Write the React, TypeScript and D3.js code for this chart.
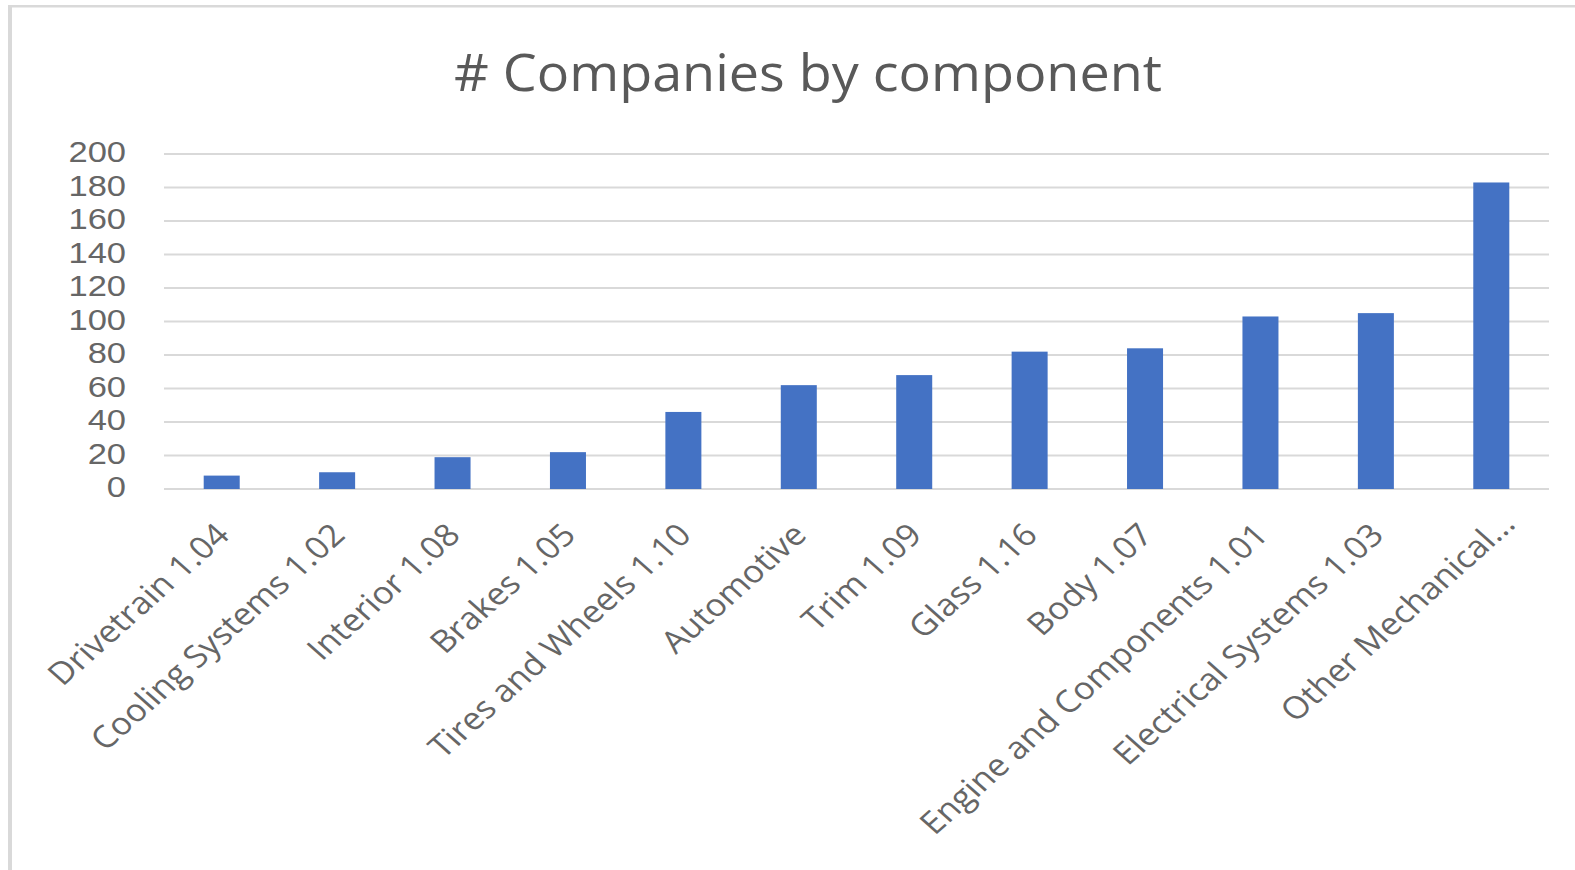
import React from "react";
import * as d3 from "d3";

const categories: string[] = [
  "Drivetrain 1.04",
  "Cooling Systems 1.02",
  "Interior 1.08",
  "Brakes 1.05",
  "Tires and Wheels 1.10",
  "Automotive",
  "Trim 1.09",
  "Glass 1.16",
  "Body 1.07",
  "Engine and Components 1.01",
  "Electrical Systems 1.03",
  "Other Mechanical...",
];
const values: number[] = [8, 10, 19, 22, 46, 62, 68, 82, 84, 103, 105, 183];
const yTicks: number[] = [0, 20, 40, 60, 80, 100, 120, 140, 160, 180, 200];
const title = "# Companies by component";

const W = 1575;
const H = 870;
const SX = 1.19;
const SXL = 1.12;

export default function App() {
  const x = d3
    .scaleBand<string>()
    .domain(categories)
    .range([164, 1549])
    .paddingInner(0.688)
    .paddingOuter(0.344);
  const y = d3.scaleLinear().domain([0, 200]).range([489, 154]);

  return (
    <svg
      width={W}
      height={H}
      style={{ position: "absolute", left: 0, top: 0, background: "#fff" }}
    >
      <rect x={0} y={0} width={W} height={H} fill="#fff" />
      {/* chart border */}
      <line x1={8} x2={W} y1={6.2} y2={6.2} stroke="#d9d9d9" strokeWidth={2.6} />
      <line x1={10} x2={10} y1={5} y2={H} stroke="#d9d9d9" strokeWidth={4} />

      {/* title */}
      <text
        x={808}
        y={90.5}
        textAnchor="middle"
        fontFamily="'Open Sans', sans-serif"
        fontSize={52}
        fill="#595959"
        textLength={708}
        lengthAdjust="spacingAndGlyphs"
      >
        {title}
      </text>

      {/* gridlines */}
      {yTicks.map((t) => (
        <line
          key={"g" + t}
          x1={164}
          x2={1549}
          y1={y(t)}
          y2={y(t)}
          stroke="#d9d9d9"
          strokeWidth={2.2}
        />
      ))}

      {/* y labels */}
      {yTicks.map((t) => (
        <g key={"yl" + t} transform={`translate(126,${y(t) + 8}) scale(${SX},1)`}>
          <text
            textAnchor="end"
            fontFamily="'Liberation Sans', Arial, sans-serif"
            fontSize={29}
            fill="#666"
          >
            {t}
          </text>
        </g>
      ))}

      {/* bars */}
      {categories.map((c, i) => (
        <rect
          key={"b" + c}
          x={x(c)}
          y={y(values[i])}
          width={x.bandwidth()}
          height={y(0) - y(values[i])}
          fill="#4472c4"
        />
      ))}

      {/* x labels */}
      {categories.map((c) => {
        const cx = (x(c) as number) + x.bandwidth() / 2;
        const truncated = c.endsWith("...");
        const ox = truncated ? 17 : 1;
        const oy = truncated ? -11 : 0;
        return (
          <g
            key={"xl" + c}
            transform={`translate(${cx + ox},${529 + oy}) scale(${SXL},1) rotate(-45)`}
          >
            <text
              textAnchor="end"
              dy="0.35em"
              fontFamily="'Open Sans', sans-serif"
              fontSize={31}
              fill="#666"
            >
              {c}
            </text>
          </g>
        );
      })}
    </svg>
  );
}
